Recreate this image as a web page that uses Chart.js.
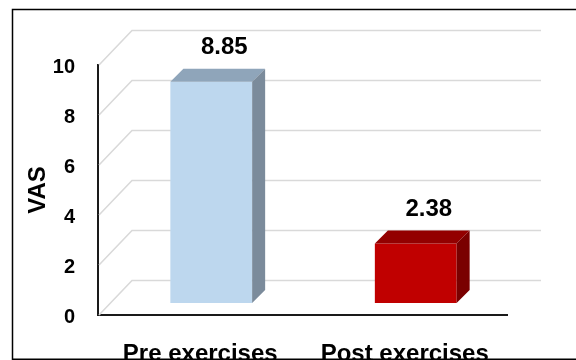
<!DOCTYPE html>
<html>
<head>
<meta charset="utf-8">
<script src="https://cdn.jsdelivr.net/npm/chart.js@4/dist/chart.umd.min.js"></script>
<style>
  html, body { margin: 0; padding: 0; background: #fff; }
  #wrap { position: relative; width: 576px; height: 360px; }
</style>
</head>
<body>
<div id="wrap"><canvas id="c"></canvas></div>
<script>
// ---- data ----
const categories = ['Pre exercises', 'Post exercises'];
const vasValues = [8.85, 2.38];
const yTicks = [0, 2, 4, 6, 8, 10];
const yTitle = 'VAS';

// ---- styles ----
const FONT = "'Liberation Sans', Arial, sans-serif";
const frontColors = ['#BDD7EE', '#C00000'];
const topColors = ['#8FA5BA', '#930000'];
const sideColors = ['#7B8B9B', '#7A0000'];
const BAR_DX = 11, BAR_DY = -12, DEPTH = 13;   // bar plane offset & depth
const WALL_DX = 34, WALL_DY = -34.5;             // back wall offset

const threeD = {
  id: 'threeD',
  beforeDatasetsDraw(chart) {
    const ctx = chart.ctx;
    const y = chart.scales.y;
    const L = chart.chartArea.left, R = chart.chartArea.right;
    ctx.save();
    ctx.strokeStyle = '#D9D9D9';
    ctx.lineWidth = 1.6;
    yTicks.forEach(v => {
      const py = y.getPixelForValue(v);
      ctx.beginPath();
      ctx.moveTo(L + 1, py);
      ctx.lineTo(L + WALL_DX, py + WALL_DY);
      ctx.lineTo(R + WALL_DX, py + WALL_DY);
      ctx.stroke();
    });
    ctx.restore();
    ctx.save();
    ctx.translate(BAR_DX, BAR_DY);
  },
  afterDatasetsDraw(chart) {
    const ctx = chart.ctx;
    const meta = chart.getDatasetMeta(0);
    meta.data.forEach((bar, i) => {
      const p = bar.getProps(['x', 'y', 'base', 'width'], true);
      const x0 = p.x - p.width / 2, x1 = p.x + p.width / 2;
      const yt = p.y, yb = p.base;
      ctx.fillStyle = topColors[i];
      ctx.beginPath();
      ctx.moveTo(x0, yt); ctx.lineTo(x1, yt);
      ctx.lineTo(x1 + DEPTH, yt - DEPTH); ctx.lineTo(x0 + DEPTH, yt - DEPTH);
      ctx.closePath(); ctx.fill();
      ctx.fillStyle = sideColors[i];
      ctx.beginPath();
      ctx.moveTo(x1, yt); ctx.lineTo(x1 + DEPTH, yt - DEPTH);
      ctx.lineTo(x1 + DEPTH, yb - DEPTH); ctx.lineTo(x1, yb);
      ctx.closePath(); ctx.fill();
      ctx.fillStyle = '#000';
      ctx.font = 'bold 24px ' + FONT;
      ctx.textAlign = 'center';
      ctx.textBaseline = 'alphabetic';
      ctx.fillText(vasValues[i].toFixed(2), p.x + DEPTH, yt - DEPTH - 15);
    });
    ctx.restore();
  },
  afterDraw(chart) {
    const ctx = chart.ctx;
    ctx.save();
    ctx.strokeStyle = '#000';
    ctx.lineWidth = 1.5;
    ctx.beginPath();
    ctx.moveTo(12.5, 360); ctx.lineTo(12.5, 9.5); ctx.lineTo(576, 9.5);
    ctx.moveTo(12.5, 359.2); ctx.lineTo(576, 359.2);
    ctx.stroke();
    ctx.restore();
  }
};

new Chart(document.getElementById('c'), {
  type: 'bar',
  data: {
    labels: categories,
    datasets: [{
      data: vasValues,
      backgroundColor: frontColors,
      borderWidth: 0,
      categoryPercentage: 1.0,
      barPercentage: 0.4,
      clip: false
    }]
  },
  options: {
    responsive: true,
    maintainAspectRatio: false,
    animation: false,
    events: [],
    layout: { padding: { left: 0, right: 69, top: 65, bottom: 0 } },
    plugins: { legend: { display: false }, tooltip: { enabled: false } },
    scales: {
      x: {
        grid: { display: false, drawTicks: false },
        border: { display: true, color: '#1a1a1a', width: 2 },
        ticks: { color: '#000', font: { family: FONT, size: 24, weight: 'bold' }, padding: 25, maxRotation: 0 },
        afterFit: s => { s.height = 45; }
      },
      y: {
        min: 0, max: 10,
        afterBuildTicks: s => { s.ticks = yTicks.map(v => ({ value: v })); },
        grid: { display: false, drawTicks: false },
        border: { display: true, color: '#1a1a1a', width: 2 },
        ticks: { color: '#000', font: { family: FONT, size: 20, weight: 'bold' }, padding: 23, labelOffset: 2 },
        title: { display: true, text: yTitle, color: '#000', font: { family: FONT, size: 24, weight: 'bold' }, padding: { top: 24, bottom: 0 } },
        afterFit: s => { s.width = 98; }
      }
    }
  },
  plugins: [threeD]
});
</script>
</body>
</html>
